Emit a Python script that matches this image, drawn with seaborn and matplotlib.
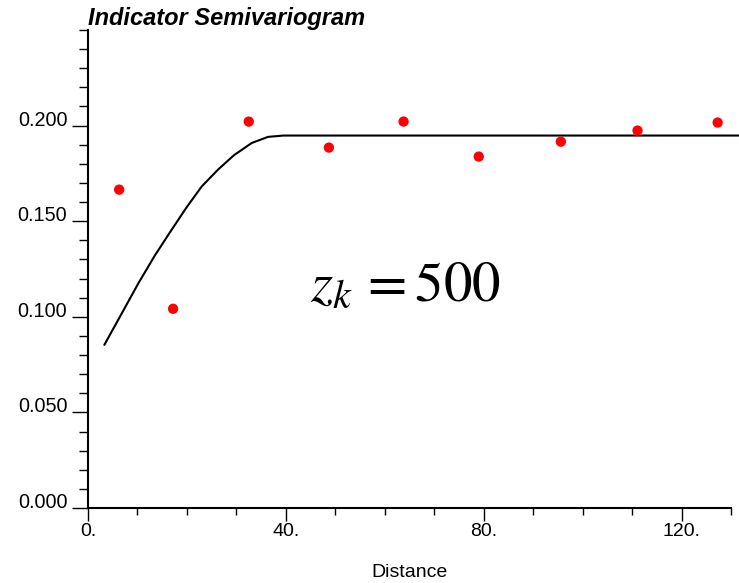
import matplotlib
matplotlib.use("Agg")
import matplotlib.pyplot as plt
import seaborn as sns
import pandas as pd
from matplotlib.ticker import MultipleLocator, FixedLocator

# experimental semivariogram points
lag_distance = [6.3, 17.2, 32.5, 48.7, 63.8, 79.0, 95.6, 111.1, 127.3]
gamma_exp = [0.1665, 0.1042, 0.2021, 0.1885, 0.2021, 0.1838, 0.1916, 0.1974, 0.2016]

# model curve
model_x = [3.3, 6.7, 10.2, 13.5, 16.9, 20.0, 23.0, 26.3, 29.5, 33.1, 36.4, 39.5, 132.0]
model_y = [0.0853, 0.1012, 0.1176, 0.1320, 0.1455, 0.1575, 0.1682, 0.1770, 0.1845, 0.1909, 0.1941, 0.1948, 0.1948]

x_ticks = [0, 40, 80, 120]
x_tick_labels = ["0.", "40.", "80.", "120."]
y_ticks = [0.0, 0.05, 0.10, 0.15, 0.20]
y_tick_labels = ["0.000", "0.050", "0.100", "0.150", "0.200"]

sns.set_style("ticks")
plt.rcParams["font.family"] = ["Liberation Sans", "DejaVu Sans"]
plt.rcParams["mathtext.fontset"] = "stix"
plt.rcParams["text.color"] = "black"
plt.rcParams["axes.labelcolor"] = "black"

fig = plt.figure(figsize=(7.39, 5.83), dpi=100)
ax = fig.add_axes([88 / 739, 75 / 583, (731 - 88) / 739, (508 - 30) / 583])

df_pts = pd.DataFrame({"x": lag_distance, "y": gamma_exp})
df_mod = pd.DataFrame({"x": model_x, "y": model_y})

sns.lineplot(data=df_mod, x="x", y="y", ax=ax, color="black", linewidth=1.5,
             sort=False, estimator=None, clip_on=False)
sns.scatterplot(data=df_pts, x="x", y="y", ax=ax, color="#ff0000", s=55,
                edgecolor="none", zorder=3)

ax.set_xlim(0, 130)
ax.set_ylim(0, 0.25)
ax.xaxis.set_major_locator(FixedLocator(x_ticks))
ax.set_xticklabels(x_tick_labels)
ax.xaxis.set_minor_locator(MultipleLocator(10))
ax.yaxis.set_major_locator(FixedLocator(y_ticks))
ax.set_yticklabels(y_tick_labels)
ax.yaxis.set_minor_locator(MultipleLocator(0.01))

for s in ["top", "right"]:
    ax.spines[s].set_visible(False)
for s in ["left", "bottom"]:
    ax.spines[s].set_linewidth(1.5)
    ax.spines[s].set_color("black")

ax.tick_params(axis="x", which="major", length=9.5, width=1.0, pad=1.5,
               labelsize=14, colors="black")
ax.tick_params(axis="x", which="minor", length=5, width=1.0, colors="black")
ax.tick_params(axis="y", which="major", length=11.3, width=1.0, pad=3.6,
               labelsize=14.3, colors="black")
ax.tick_params(axis="y", which="minor", length=6.5, width=1.0, colors="black")
for lab in ax.get_yticklabels():
    lab.set_verticalalignment("baseline")

ax.set_xlabel("Distance", fontsize=14, labelpad=17)
ax.set_ylabel("")
ax.set_title("Indicator Semivariogram", loc="left", fontsize=17,
             fontweight="bold", fontstyle="italic", pad=3, color="black")

ax.text(0.346, 0.435, r"$z_k\hspace{0.16}=500$", transform=ax.transAxes, fontsize=41,
        ha="left", va="baseline", color="black")

fig.savefig("out.png", dpi=100)
